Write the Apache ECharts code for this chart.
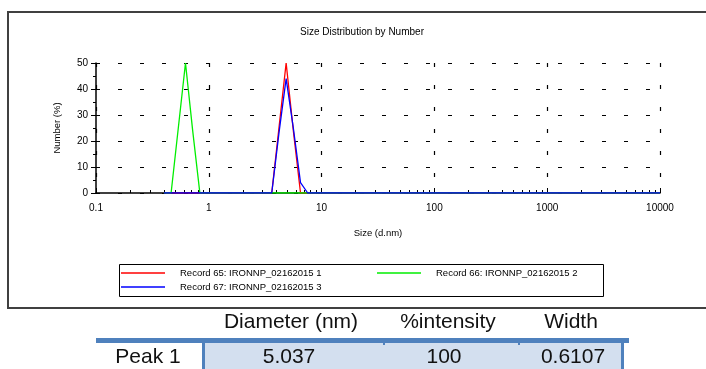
<!DOCTYPE html>
<html>
<head>
<meta charset="utf-8">
<script src="https://cdn.jsdelivr.net/npm/echarts@6/dist/echarts.min.js"></script>
<style>
  html, body { margin: 0; padding: 0; background: #fff; }
  #chart { width: 706px; height: 369px; }
</style>
</head>
<body>
<div id="chart"></div>
<script>
// Size classes (d.nm) used by the measurement, with the number distribution (%) of each record
const sizes = [0.4, 0.4632, 0.5365, 0.6213, 0.7195, 0.8332, 0.9649, 3.122, 3.615, 4.187, 4.849, 5.615, 6.503, 7.531, 8.721, 10000];
const record65 = [0, 0, 0, 0, 0, 0, 0, 0, 0, 25, 50, 24, 0, 0, 0, 0];
const record66 = [0, 0, 25, 50, 24, 0, 0, 0, 0, 0, 0, 0, 0, 0, 0, 0];
const record67 = [0, 0, 0, 0, 0, 0, 0, 0, 0, 23, 44, 25, 4, 0, 0, 0];

const seriesNames = [
  'Record 65: IRONNP_02162015 1',
  'Record 66: IRONNP_02162015 2',
  'Record 67: IRONNP_02162015 3'
];

// Intermediate ticks of each decade on the log size axis
const minorTicks = [
  0.2, 0.3, 0.4, 0.5, 0.6, 0.7, 0.8, 0.9,
  2, 3, 4, 5, 6, 7, 8, 9,
  20, 30, 40, 50, 60, 70, 80, 90,
  200, 300, 400, 500, 600, 700, 800, 900,
  2000, 3000, 4000, 5000, 6000, 7000, 8000, 9000
];

// Peak summary table
const tableHeaders = ['Diameter (nm)', '%intensity', 'Width'];
const peakLabel = 'Peak 1';
const peakValues = ['5.037', '100', '0.6107'];

const pair = (ys) => sizes.map((s, i) => [s, ys[i]]);

const FONT = 'Arial, "Liberation Sans", sans-serif';
const BLUE_TBL = '#4f81bd';

const colX = [291, 448, 571];
const valX = [289, 444, 573];

const graphics = [
  // outer frame around the chart
  { type: 'rect', shape: { x: 8, y: 12, width: 720, height: 296 },
    style: { fill: 'none', stroke: '#404040', lineWidth: 2 }, silent: true },
  // chart title
  { type: 'text', x: 362, y: 32,
    style: { text: 'Size Distribution by Number', font: '10px ' + FONT, fill: '#000',
             align: 'center', verticalAlign: 'middle' } },
  // legend frame
  { type: 'rect', shape: { x: 119.5, y: 264.5, width: 484, height: 32 },
    style: { fill: 'none', stroke: '#000', lineWidth: 1 }, silent: true },
  // table: header rule, shaded data cells and side borders
  { type: 'rect', shape: { x: 96, y: 338, width: 533, height: 5 }, style: { fill: BLUE_TBL } },
  { type: 'rect', shape: { x: 203, y: 343, width: 420, height: 26 }, style: { fill: '#d3dfef' } },
  { type: 'rect', shape: { x: 202, y: 343, width: 3, height: 26 }, style: { fill: BLUE_TBL } },
  { type: 'rect', shape: { x: 621, y: 343, width: 3, height: 26 }, style: { fill: BLUE_TBL } },
  { type: 'rect', shape: { x: 383, y: 343, width: 2, height: 2 }, style: { fill: BLUE_TBL } },
  { type: 'rect', shape: { x: 518, y: 343, width: 2, height: 2 }, style: { fill: BLUE_TBL } },
  { type: 'text', x: 148, y: 357,
    style: { text: peakLabel, font: '21px ' + FONT, fill: '#111', align: 'center', verticalAlign: 'middle' } }
];
tableHeaders.forEach((h, i) => graphics.push({
  type: 'text', x: colX[i], y: 322,
  style: { text: h, font: '21px ' + FONT, fill: '#111', align: 'center', verticalAlign: 'middle' }
}));
peakValues.forEach((v, i) => graphics.push({
  type: 'text', x: valX[i], y: 357,
  style: { text: v, font: '21px ' + FONT, fill: '#111', align: 'center', verticalAlign: 'middle' }
}));

const axisText = { color: '#000', fontSize: 10, fontFamily: FONT };
const legendText = { color: '#000', fontSize: 9.5, fontFamily: FONT, padding: [0, 0, 0, 10] };

const option = {
  animation: false,
  backgroundColor: '#fff',
  grid: { left: 96, right: 46, top: 63, bottom: 176 },
  legend: [
    { left: 121, top: 268, orient: 'vertical', itemGap: 4, itemWidth: 44, itemHeight: 1.5,
      icon: 'rect', data: [seriesNames[0], seriesNames[2]], textStyle: legendText, padding: 0 },
    { left: 377, top: 268, orient: 'vertical', itemGap: 4, itemWidth: 44, itemHeight: 1.5,
      icon: 'rect', data: [seriesNames[1]], textStyle: legendText, padding: 0 }
  ],
  xAxis: [
    {
      type: 'log', logBase: 10, min: 0.1, max: 10000,
      name: 'Size (d.nm)', nameLocation: 'middle', nameGap: 35,
      nameTextStyle: { color: '#000', fontSize: 9.5, fontFamily: FONT },
      axisLine: { lineStyle: { color: '#000', width: 1.5 } },
      axisTick: { inside: true, length: 5, lineStyle: { color: '#000' } },
      axisLabel: Object.assign({ margin: 10, formatter: (v) => String(v) }, axisText),
      splitLine: { show: true, lineStyle: { color: '#000', type: [4, 18], width: 1.2 } }
    },
    {
      type: 'log', logBase: 10, min: 0.1, max: 10000, position: 'bottom',
      axisLine: { show: false },
      axisLabel: { show: false },
      splitLine: { show: false },
      axisTick: { show: true, inside: true, length: 3, customValues: minorTicks,
                  lineStyle: { color: '#000' } }
    }
  ],
  yAxis: {
    type: 'value', min: 0, max: 50, interval: 10,
    name: 'Number (%)', nameLocation: 'middle', nameGap: 34, nameRotate: 90,
    nameTextStyle: { color: '#000', fontSize: 9.5, fontFamily: FONT },
    axisLine: { show: true, lineStyle: { color: '#000', width: 1.5 } },
    axisTick: { show: true, length: 5, lineStyle: { color: '#000' } },
    minorTick: { show: true, splitNumber: 2, length: 3, lineStyle: { color: '#000' } },
    axisLabel: Object.assign({ margin: 8 }, axisText),
    splitLine: { show: true, lineStyle: { color: '#000', type: [4, 18], width: 1.2 } }
  },
  series: [
    { name: seriesNames[0], type: 'line', data: pair(record65), symbol: 'none',
      color: '#ff0000', lineStyle: { width: 1.3 }, z: 3 },
    { name: seriesNames[1], type: 'line', data: pair(record66), symbol: 'none',
      color: '#00ee00', lineStyle: { width: 1.3 }, z: 4 },
    { name: seriesNames[2], type: 'line', data: pair(record67), symbol: 'none',
      color: '#0000ff', lineStyle: { width: 1.3 }, z: 5 }
  ],
  graphic: graphics
};

const chart = echarts.init(document.getElementById('chart'), null, { renderer: 'canvas' });
chart.setOption(option);
</script>
</body>
</html>
